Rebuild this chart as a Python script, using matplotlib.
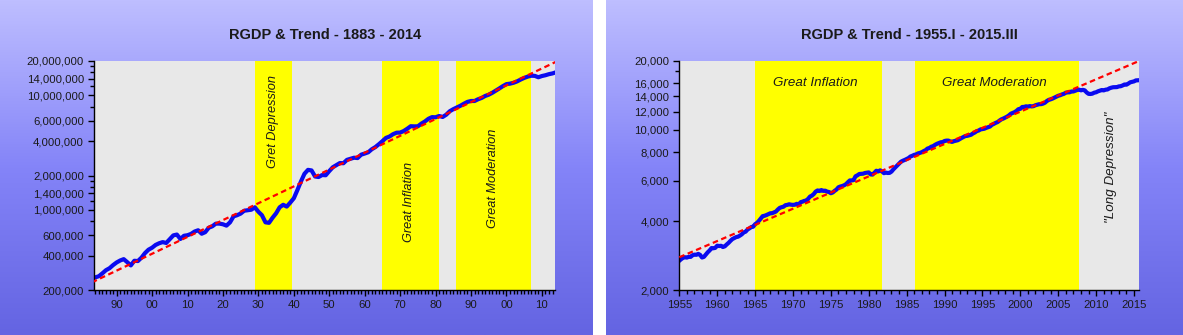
import numpy as np
import matplotlib.pyplot as plt
from matplotlib.ticker import FixedLocator, FuncFormatter, NullFormatter

plt.rcParams['font.family'] = ['Liberation Sans', 'DejaVu Sans']

# annual real GDP, 1883 - 2014 (millions, 2009 dollars)
left_years = list(range(1883, 2015))
left_rgdp = [
    250000, 258000, 264000, 280000, 298000, 310000, 330000, 348000, 362000, 372000,
    350000, 328000, 360000, 358000, 383000, 420000, 450000, 468000, 495000, 512000,
    524000, 515000, 555000, 600000, 610000, 558000, 595000, 602000, 618000, 648000,
    665000, 620000, 640000, 700000, 720000, 760000, 760000, 750000, 730000, 780000,
    880000, 900000, 930000, 985000, 995000, 1005000, 1055000, 965000, 900000, 780000,
    772000, 855000, 935000, 1055000, 1110000, 1070000, 1160000, 1265000, 1490000, 1770000,
    2070000, 2240000, 2215000, 1960000, 1940000, 2020000, 2010000, 2185000, 2360000, 2460000,
    2570000, 2560000, 2740000, 2800000, 2860000, 2840000, 3040000, 3110000, 3190000, 3390000,
    3540000, 3750000, 3990000, 4260000, 4380000, 4590000, 4730000, 4740000, 4890000, 5120000,
    5390000, 5370000, 5380000, 5680000, 5930000, 6260000, 6470000, 6450000, 6620000, 6490000,
    6790000, 7280000, 7590000, 7860000, 8130000, 8470000, 8790000, 8950000, 8950000, 9270000,
    9520000, 9900000, 10160000, 10550000, 11020000, 11520000, 12070000, 12560000, 12680000, 12910000,
    13270000, 13770000, 14230000, 14610000, 14870000, 14830000, 14420000, 14780000, 15020000, 15350000,
    15580000, 15960000,
]
left_trend_years = [1883, 2014]
left_trend = [233000, 19700000]

# quarterly real GDP, 1955.I - 2015.III (billions, 2009 dollars)
right_rgdp = [
    2683.8, 2727.5, 2764.1, 2780.8, 2770.0, 2792.9, 2790.6, 2836.2,
    2854.5, 2848.2, 2875.9, 2846.4, 2772.7, 2790.9, 2855.5, 2922.3,
    2976.6, 3049.0, 3043.1, 3055.1, 3123.2, 3111.3, 3119.1, 3081.3,
    3102.3, 3159.9, 3212.6, 3277.7, 3336.8, 3372.7, 3404.8, 3418.0,
    3456.1, 3501.1, 3569.5, 3595.0, 3672.7, 3716.4, 3766.9, 3780.2,
    3873.5, 3926.4, 4006.2, 4100.6, 4201.9, 4219.1, 4249.2, 4285.6,
    4324.9, 4328.7, 4366.1, 4401.2, 4490.6, 4566.4, 4599.3, 4619.8,
    4691.6, 4706.7, 4736.1, 4715.5, 4707.1, 4715.4, 4757.2, 4708.3,
    4834.3, 4861.9, 4900.0, 4914.3, 5002.4, 5118.3, 5165.4, 5251.2,
    5380.5, 5441.5, 5411.9, 5462.4, 5417.0, 5431.3, 5378.7, 5357.2,
    5292.4, 5333.2, 5421.4, 5494.4, 5618.5, 5661.0, 5689.8, 5732.5,
    5799.2, 5913.0, 6017.6, 6018.2, 6039.2, 6274.0, 6335.3, 6420.3,
    6433.0, 6440.8, 6487.1, 6503.9, 6524.9, 6392.6, 6382.9, 6501.2,
    6635.7, 6587.3, 6662.9, 6585.1, 6475.0, 6510.2, 6486.8, 6493.1,
    6578.2, 6728.3, 6860.0, 7001.5, 7140.6, 7266.0, 7337.5, 7396.0,
    7469.5, 7537.9, 7655.2, 7712.6, 7784.1, 7819.8, 7898.6, 7939.5,
    7995.0, 8084.7, 8158.0, 8292.7, 8339.3, 8449.5, 8498.3, 8610.9,
    8697.7, 8766.1, 8831.5, 8850.2, 8947.1, 8981.7, 8983.9, 8907.4,
    8865.6, 8934.4, 8977.3, 9016.4, 9123.0, 9223.5, 9313.2, 9406.5,
    9424.1, 9480.1, 9526.3, 9653.5, 9748.2, 9881.4, 9939.7, 10052.5,
    10086.9, 10122.1, 10208.8, 10281.2, 10348.7, 10529.4, 10626.8, 10739.1,
    10820.9, 10984.2, 11124.0, 11210.3, 11321.2, 11431.0, 11580.6, 11770.7,
    11864.7, 11962.5, 12113.1, 12323.3, 12359.1, 12592.5, 12607.7, 12679.3,
    12643.3, 12710.3, 12670.1, 12705.3, 12822.3, 12893.0, 12955.8, 12964.0,
    13031.2, 13152.1, 13372.4, 13528.7, 13606.5, 13706.2, 13830.8, 13950.4,
    14099.1, 14172.7, 14291.8, 14373.4, 14546.1, 14589.6, 14602.6, 14716.9,
    14726.0, 14838.7, 14938.5, 14991.8, 14889.5, 14963.4, 14891.6, 14577.0,
    14375.0, 14355.6, 14402.5, 14541.9, 14604.8, 14745.9, 14845.5, 14939.0,
    14881.3, 14989.6, 15021.1, 15190.3, 15291.0, 15362.4, 15380.8, 15384.3,
    15491.9, 15521.6, 15641.3, 15793.9, 15757.6, 15935.8, 16139.5, 16220.2,
    16294.7, 16454.9, 16475.0,
]
right_dates = 1955.0 + np.arange(len(right_rgdp)) * 0.25
right_trend_years = [1955.0, 2015.66]
right_trend = [2780, 20000]

left_spans = [(1929.0, 1939.4), (1964.8, 1981.0), (1985.7, 2006.9)]
right_spans = [(1965.0, 1981.8), (1986.1, 2007.7)]

left_major = [200000, 400000, 600000, 1000000, 1400000, 2000000,
              4000000, 6000000, 10000000, 14000000, 20000000]
left_minor = [800000, 1200000, 1600000, 1800000, 8000000, 12000000, 16000000, 18000000]
right_major = [2000, 4000, 6000, 8000, 10000, 12000, 14000, 16000, 20000]
right_minor = [18000]

W, H = 1183, 335
fig = plt.figure(figsize=(W / 100, H / 100), dpi=100, facecolor='white')

# gradient panel backgrounds
top = np.array([190, 190, 255]) / 255
mid = np.array([132, 132, 248]) / 255
bot = np.array([100, 100, 226]) / 255
t = np.linspace(0, 1, 256)[:, None]
grad = np.where(t < 0.5, top + (mid - top) * (t / 0.5), mid + (bot - mid) * ((t - 0.5) / 0.5))
grad = grad[:, None, :]
for x0, x1 in [(0, 593), (606, W)]:
    bg = fig.add_axes([x0 / W, 0, (x1 - x0) / W, 1], zorder=-10)
    bg.imshow(grad, aspect='auto', extent=[0, 1, 0, 1])
    bg.axis('off')

ax_y0 = 1 - 290 / H
ax_h = (290 - 61) / H
ax1 = fig.add_axes([94.3 / W, ax_y0, (555 - 94.3) / W, ax_h])
ax2 = fig.add_axes([679.3 / W, ax_y0, (1139 - 679.3) / W, ax_h])

txt = '#1a1a1a'
for ax in (ax1, ax2):
    ax.set_facecolor('#e8e8e8')
    ax.set_yscale('log')
    for s in ('top', 'right'):
        ax.spines[s].set_visible(False)
    ax.spines['left'].set_linewidth(1.0)
    ax.spines['bottom'].set_linewidth(1.0)
    ax.tick_params(which='both', direction='out', colors='black', labelcolor=txt, labelsize=8.2)
    ax.tick_params(which='major', length=4, width=1)
    ax.tick_params(which='minor', length=3, width=1)

# left chart
for a, b in left_spans:
    ax1.axvspan(a, b, color='#ffff00', lw=0, zorder=0.5)
ax1.plot(left_years, left_rgdp, color='#0a0af0', lw=3.0, zorder=2)
ax1.plot(left_trend_years, left_trend, color='#ff0000', lw=1.6, ls=(0, (2.5, 1.6)), zorder=3)
ax1.set_xlim(1883.7, 2013.7)
ax1.set_ylim(200000, 20000000)
ax1.yaxis.set_major_locator(FixedLocator(left_major))
ax1.yaxis.set_minor_locator(FixedLocator(left_minor))
ax1.yaxis.set_major_formatter(FuncFormatter(lambda v, p: f'{int(round(v)):,}'))
ax1.yaxis.set_minor_formatter(NullFormatter())
ax1.xaxis.set_major_locator(FixedLocator(list(range(1890, 2011, 10))))
ax1.xaxis.set_minor_locator(FixedLocator(list(range(1884, 2014))))
ax1.xaxis.set_major_formatter(FuncFormatter(lambda v, p: f'{int(round(v)) % 100:02d}'))
ax1.tick_params(axis='x', which='minor', length=3)

ax1.text(1934.2, 5.87e6, 'Gret Depression', rotation=90, style='italic', fontsize=9.2,
         ha='center', va='center', color=txt)
ax1.text(1972.5, 1.17e6, 'Great Inflation', rotation=90, style='italic', fontsize=9.2,
         ha='center', va='center', color=txt)
ax1.text(1996.2, 1.9e6, 'Great Moderation', rotation=90, style='italic', fontsize=9.2,
         ha='center', va='center', color=txt)

# right chart
for a, b in right_spans:
    ax2.axvspan(a, b, color='#ffff00', lw=0, zorder=0.5)
ax2.plot(right_dates, right_rgdp, color='#0a0af0', lw=3.0, zorder=2)
ax2.plot(right_trend_years, right_trend, color='#ff0000', lw=1.6, ls=(0, (2.5, 1.6)), zorder=3)
ax2.set_xlim(1955.0, 2015.66)
ax2.set_ylim(2000, 20000)
ax2.yaxis.set_major_locator(FixedLocator(right_major))
ax2.yaxis.set_minor_locator(FixedLocator(right_minor))
ax2.yaxis.set_major_formatter(FuncFormatter(lambda v, p: f'{int(round(v)):,}'))
ax2.yaxis.set_minor_formatter(NullFormatter())
ax2.xaxis.set_major_locator(FixedLocator(list(range(1955, 2016, 5))))
ax2.xaxis.set_minor_locator(FixedLocator(list(range(1956, 2016))))

ax2.text(1972.9, 15960, 'Great Inflation', style='italic', fontsize=9.6,
         ha='center', va='center', color=txt)
ax2.text(1996.6, 15960, 'Great Moderation', style='italic', fontsize=9.6,
         ha='center', va='center', color=txt)
ax2.text(2012.0, 6880, '"Long Depression"', rotation=90, style='italic', fontsize=9.6,
         ha='center', va='center', color=txt)

title_y = 1 - 35 / H
fig.text((94.3 + 555) / 2 / W, title_y, 'RGDP & Trend - 1883 - 2014', fontsize=10.5,
         fontweight='bold', ha='center', va='center', color=txt)
fig.text((679.3 + 1139) / 2 / W, title_y, 'RGDP & Trend - 1955.I - 2015.III', fontsize=10.5,
         fontweight='bold', ha='center', va='center', color=txt)

fig.savefig('out.png', dpi=100, facecolor='white')
